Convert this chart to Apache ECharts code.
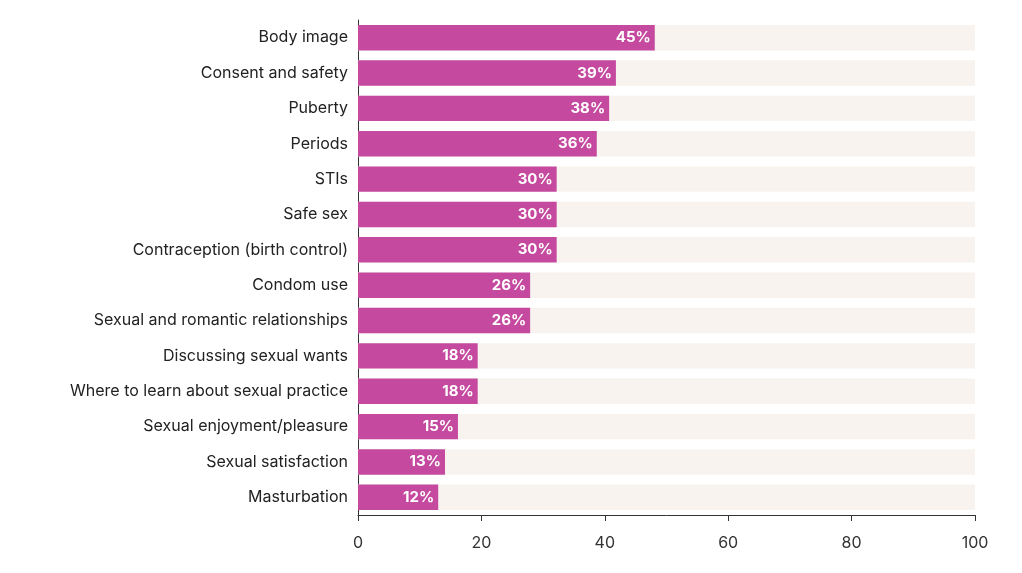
<!DOCTYPE html>
<html lang="en">
<head>
<meta charset="UTF-8">
<script src="https://cdn.jsdelivr.net/npm/echarts@6/dist/echarts.min.js"></script>
<style>body{margin:0;background:#fff}#chart{width:1022px;height:573px}</style>
</head>
<body>
<div id="chart"></div>
<script>
var topics = ['Body image','Consent and safety','Puberty','Periods','STIs','Safe sex',
  'Contraception (birth control)','Condom use','Sexual and romantic relationships',
  'Discussing sexual wants','Where to learn about sexual practice','Sexual enjoyment/pleasure',
  'Sexual satisfaction','Masturbation'];
// bar lengths as drawn in the picture
var barLengths = [48.1, 41.8, 40.7, 38.7, 32.2, 32.2, 32.2, 27.9, 27.9, 19.4, 19.4, 16.2, 14.1, 13.0];
// labels printed on the bars
var shares = ['45%','39%','38%','36%','30%','30%','30%','26%','26%','18%','18%','15%','13%','12%'];
var axisMax = 100;

var chart = echarts.init(document.getElementById('chart'));
chart.setOption({
  animation: false,
  grid: {left: 358, right: 47, top: 20, bottom: 58},
  xAxis: {
    type: 'value', min: 0, max: axisMax, interval: 20,
    splitLine: {show: false},
    axisLine: {show: true, lineStyle: {color: '#333'}},
    axisTick: {show: true, length: 6, lineStyle: {color: '#333'}},
    axisLabel: {color: '#333', fontSize: 16, fontFamily: 'Inter', margin: 20}
  },
  yAxis: {
    type: 'category', data: topics, inverse: true,
    axisLine: {show: true, lineStyle: {color: '#333'}},
    axisTick: {show: false},
    axisLabel: {color: '#222', fontSize: 16, fontFamily: 'Inter', margin: 10}
  },
  series: [{
    type: 'bar',
    data: barLengths,
    barWidth: '72%',
    itemStyle: {color: '#c54a9f'},
    showBackground: true,
    backgroundStyle: {color: '#f8f3ee'},
    label: {
      show: true, position: 'insideRight', distance: 4,
      color: '#fff', fontSize: 15, fontWeight: 'bold', fontFamily: 'Inter',
      formatter: function (p) { return shares[p.dataIndex]; }
    }
  }]
});
</script>
</body>
</html>
